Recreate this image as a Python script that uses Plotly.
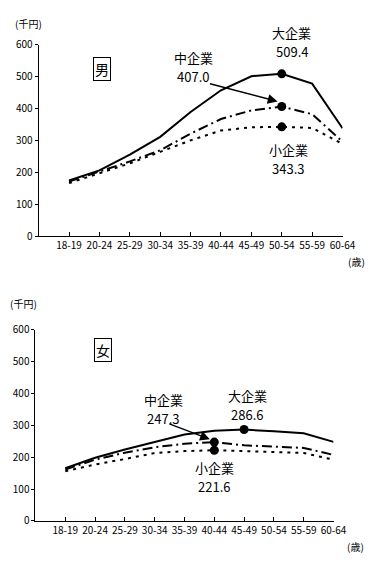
import plotly.graph_objects as go

ages = ["18-19", "20-24", "25-29", "30-34", "35-39", "40-44", "45-49", "50-54", "55-59", "60-64"]

male_large = [175, 207, 256, 312, 390, 458, 502, 509.4, 479, 339]
male_medium = [172, 203, 235, 270, 322, 368, 395, 407.0, 383, 297]
male_small = [167, 198, 229, 265, 301, 332, 342, 343.3, 340, 290]

female_large = [165, 198, 224, 248, 271, 283, 286.6, 281, 275, 248]
female_medium = [161, 192, 214, 231, 242, 247.3, 237, 232, 229, 207]
female_small = [156, 177, 194, 213, 219, 221.6, 219, 216, 213, 192]

series_names = ["大企業", "中企業", "小企業"]
male_mark_idx = [7, 7, 7]
female_mark_idx = [6, 5, 5]

FONT = "Noto Sans CJK JP"
styles = [dict(color="black", width=2, dash="solid"),
          dict(color="black", width=2, dash="10px,4px,2px,4px"),
          dict(color="black", width=2, dash="3px,5px")]

xi = list(range(len(ages)))
fig = go.Figure()

def add_panel(data, marks, xa, ya):
    for name, vals, st, mi in zip(series_names, data, styles, marks):
        fig.add_trace(go.Scatter(x=xi, y=vals, mode="lines", line=st, name=name,
                                 showlegend=False, xaxis=xa, yaxis=ya,
                                 hoverinfo="skip"))
        fig.add_trace(go.Scatter(x=[xi[mi]], y=[vals[mi]], mode="markers",
                                 marker=dict(color="black", size=9), showlegend=False,
                                 xaxis=xa, yaxis=ya, hoverinfo="skip"))

add_panel([male_large, male_medium, male_small], male_mark_idx, "x", "y")
add_panel([female_large, female_medium, female_small], female_mark_idx, "x2", "y2")

W, H = 391, 568
def xdom(a, b): return [a / W, b / W]
def ydom(top, bot): return [1 - bot / H, 1 - top / H]

common = dict(showline=True, linecolor="black", linewidth=1, tickcolor="black",
              showgrid=False, zeroline=False,
              tickfont=dict(family=FONT, size=10, color="black"))
xcommon = dict(ticks="inside", ticklen=4, **common)
ycommon = dict(ticks="outside", ticklen=3, **common)

fig.update_layout(
    width=W, height=H, margin=dict(l=0, r=0, t=0, b=0),
    plot_bgcolor="white", paper_bgcolor="white",
    xaxis=dict(domain=xdom(40, 354.3), range=[-1, 9], tickvals=xi, ticktext=ages,
               anchor="y", **xcommon),
    yaxis=dict(domain=ydom(37, 234), range=[0, 600], dtick=100, anchor="x", **ycommon),
    xaxis2=dict(domain=xdom(36.7, 345), range=[-1, 9], tickvals=xi, ticktext=ages,
                anchor="y2", **xcommon),
    yaxis2=dict(domain=ydom(330, 526.7), range=[0, 600], dtick=100, anchor="x2", **ycommon),
)

afont = dict(family=FONT, size=13, color="black")
sfont = dict(family=FONT, size=10, color="black")
C = dict(xanchor="center", yanchor="middle")
HALF = 9.5  # half the distance between the two label lines, px

def lab(name, value, x, y, xr, yr):
    fig.add_annotation(text=name, x=x, y=y, xref=xr, yref=yr, yshift=HALF,
                       showarrow=False, font=afont, **C)
    fig.add_annotation(text=value, x=x, y=y, xref=xr, yref=yr, yshift=-HALF,
                       showarrow=False, font=afont, **C)

def plab(text, px, py, font=afont):
    fig.add_annotation(text=text, x=px / W, y=1 - py / H, xref="paper", yref="paper",
                       showarrow=False, font=font, **C)

# top panel labels
plab("大企業", 302, 34 - HALF)
plab("509.4", 302, 34 + HALF)
lab("中企業", "407.0", 4.09, 530, "x", "y")
lab("小企業", "343.3", 7.21, 244, "x", "y")
fig.add_annotation(text="", x=6.86, y=423, xref="x", yref="y", ax=-69, ay=-18,
                   showarrow=True, arrowhead=2, arrowsize=1.3, arrowwidth=1.5, arrowcolor="black")
fig.add_annotation(text="男", x=1.07, y=525, xref="x", yref="y", showarrow=False,
                   font=dict(family=FONT, size=14, color="black"),
                   bordercolor="black", borderwidth=1, borderpad=1, bgcolor="white", **C)

# bottom panel labels
lab("大企業", "286.6", 6.11, 365, "x2", "y2")
lab("中企業", "247.3", 3.29, 351, "x2", "y2")
lab("小企業", "221.6", 4.99, 138, "x2", "y2")
fig.add_annotation(text="", x=4.85, y=256, xref="x2", yref="y2", ax=-42, ay=-16,
                   showarrow=True, arrowhead=2, arrowsize=1.3, arrowwidth=1.5, arrowcolor="black")
fig.add_annotation(text="女", x=1.25, y=536, xref="x2", yref="y2", showarrow=False,
                   font=dict(family=FONT, size=14, color="black"),
                   bordercolor="black", borderwidth=1, borderpad=1, bgcolor="white", **C)

# unit labels
plab("(千円)", 29, 15, sfont)
plab("(千円)", 24, 303, sfont)
plab("(歳)", 369, 260, sfont)
plab("(歳)", 368, 553, sfont)

fig.write_html("out.html", config={"displayModeBar": False},
               post_script="document.body.style.margin='0';document.body.style.overflow='hidden';")
